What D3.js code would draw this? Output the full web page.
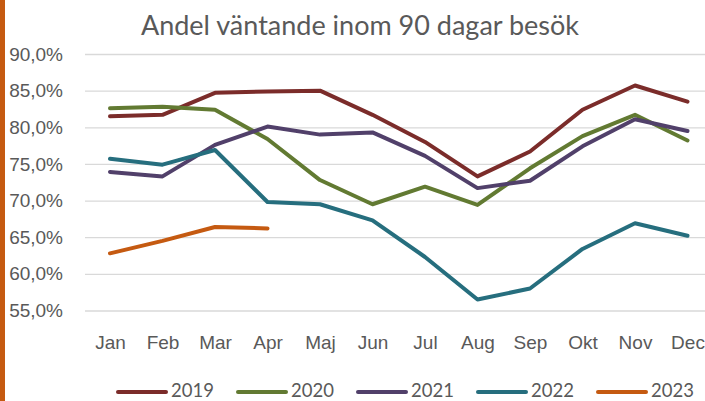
<!DOCTYPE html>
<html>
<head>
<meta charset="utf-8">
<script src="https://cdn.jsdelivr.net/npm/d3@7"></script>
<style>
  body { margin: 0; background: #fff; }
  svg { display: block; font-family: Lato, "Open Sans", sans-serif; }
</style>
</head>
<body>
<div id="chart"></div>
<script>
const months = ["Jan", "Feb", "Mar", "Apr", "Maj", "Jun", "Jul", "Aug", "Sep", "Okt", "Nov", "Dec"];
const years = ["2019", "2020", "2021", "2022", "2023"];
const v2019 = [81.5, 81.7, 84.7, 84.9, 85.0, 81.7, 78.0, 73.3, 76.7, 82.4, 85.7, 83.5];
const v2020 = [82.6, 82.8, 82.4, 78.4, 72.8, 69.5, 71.9, 69.4, 74.4, 78.8, 81.7, 78.2];
const v2021 = [73.9, 73.3, 77.6, 80.1, 79.0, 79.3, 76.1, 71.7, 72.7, 77.4, 81.1, 79.5];
const v2022 = [75.7, 74.9, 76.9, 69.8, 69.5, 67.3, 62.3, 56.5, 58.0, 63.4, 66.9, 65.2];
const v2023 = [62.8, 64.5, 66.4, 66.2];
const yTicks = [55, 60, 65, 70, 75, 80, 85, 90];
const colors = ["#7B2C2A", "#627A32", "#51406A", "#266E7E", "#C55A11"];

const series = [v2019, v2020, v2021, v2022, v2023];

const width = 705, height = 401;
const svg = d3.select("#chart").append("svg")
    .attr("width", width)
    .attr("height", height);

// orange bar on the left edge
svg.append("rect")
    .attr("x", 0).attr("y", 0)
    .attr("width", 5).attr("height", height)
    .attr("fill", "#C55A11");

const x = d3.scalePoint().domain(months).range([83.75, 713.75]).padding(0.5);
const y = d3.scaleLinear().domain([55, 90]).range([310.5, 54]);

const fmt = d => d.toFixed(1).replace(".", ",") + "%";

// y axis + gridlines
const gy = svg.append("g")
    .attr("transform", "translate(85,0)")
    .call(d3.axisLeft(y).tickValues(yTicks).tickFormat(fmt)
        .tickSizeInner(-(width - 85)).tickSizeOuter(0).tickPadding(22));
gy.select(".domain").remove();
gy.selectAll("line").attr("stroke", "#D9D9D9").attr("stroke-width", 1.3);
gy.selectAll("text").attr("fill", "#595959").attr("font-size", 19);

// x axis
const gx = svg.append("g")
    .attr("transform", "translate(0,310.5)")
    .call(d3.axisBottom(x).tickSize(0));
gx.select(".domain").remove();
gx.selectAll("text")
    .attr("fill", "#595959").attr("font-size", 19)
    .attr("y", 38.5).attr("dy", 0);

// title
svg.append("text")
    .attr("x", 360).attr("y", 35)
    .attr("text-anchor", "middle")
    .attr("fill", "#595959")
    .attr("font-size", 27)
    .text("Andel väntande inom 90 dagar besök");

const line = d3.line()
    .x((d, i) => x(months[i]))
    .y(d => y(d));

svg.append("g").selectAll("path")
    .data(series)
    .join("path")
    .attr("d", d => line(d))
    .attr("fill", "none")
    .attr("stroke", (d, i) => colors[i])
    .attr("stroke-width", 4)
    .attr("stroke-linejoin", "round")
    .attr("stroke-linecap", "round");

// legend
const legend = svg.append("g").selectAll("g")
    .data(years)
    .join("g")
    .attr("transform", (d, i) => `translate(${118 + i * 120},392)`);
legend.append("line")
    .attr("x1", 0).attr("x2", 48)
    .attr("stroke", (d, i) => colors[i])
    .attr("stroke-width", 4)
    .attr("stroke-linecap", "round");
legend.append("text")
    .attr("x", 53).attr("y", 5)
    .attr("fill", "#595959").attr("font-size", 18.5)
    .text(d => d);
</script>
</body>
</html>
